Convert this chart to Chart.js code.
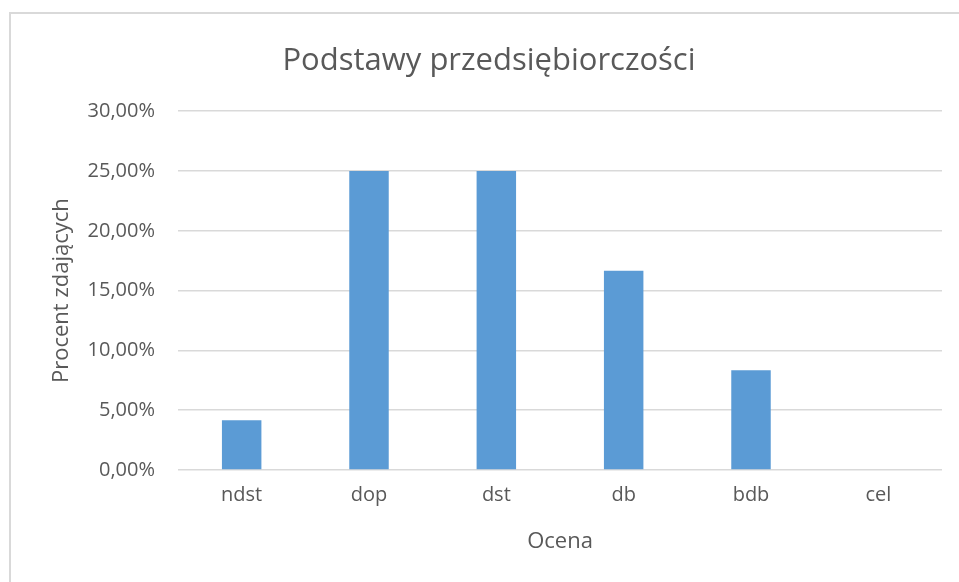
<!DOCTYPE html>
<html>
<head>
<meta charset="utf-8">
<script src="https://cdn.jsdelivr.net/npm/chart.js@4"></script>
<style>
  html, body { margin: 0; padding: 0; background: #fff; overflow: hidden; }
  #frame {
    position: absolute; left: 9px; top: 12px; width: 1000px; height: 600px;
    border-top: 2px solid #d9d9d9; border-left: 2px solid #d9d9d9;
  }
  #wrap { position: absolute; left: 9px; top: 12px; width: 960px; height: 570px; }
</style>
</head>
<body>
<div id="frame"></div>
<div id="wrap"><canvas id="chart" width="960" height="570"></canvas></div>
<script>
const categories = ["ndst", "dop", "dst", "db", "bdb", "cel"];
const percents = [4.17, 25.0, 25.0, 16.67, 8.33, 0];
const yTicks = [0, 5, 10, 15, 20, 25, 30];

const textColor = "#595959";
const fontFamily = "'Open Sans', 'Noto Sans', sans-serif";

const ctx = document.getElementById("chart");

new Chart(ctx, {
  type: "bar",
  data: {
    labels: categories,
    datasets: [
      {
        label: "Procent zdających",
        data: percents,
        backgroundColor: "#5B9BD5",
        categoryPercentage: 1,
        barPercentage: 0.31,
      },
    ],
  },
  options: {
    responsive: false,
    animation: false,
    layout: { padding: { left: 27, right: 27, top: 0, bottom: 0 } },
    plugins: {
      legend: { display: false },
      tooltip: { enabled: false },
      title: {
        display: true,
        text: "Podstawy przedsiębiorczości",
        color: textColor,
        font: { family: fontFamily, size: 31, weight: "normal" },
        padding: { top: 31, bottom: 31 },
      },
    },
    scales: {
      x: {
        grid: { display: false, drawTicks: false },
        border: { display: false },
        ticks: {
          color: textColor,
          font: { family: fontFamily, size: 20 },
          padding: 13,
        },
        title: {
          display: true,
          text: "Ocena",
          color: textColor,
          font: { family: fontFamily, size: 22 },
          padding: { top: 0, bottom: 27 },
        },
        afterFit: (scale) => {
          scale.height = 112;
        },
      },
      y: {
        min: 0,
        max: 30,
        afterBuildTicks: (scale) => {
          scale.ticks = yTicks.map((v) => ({ value: v }));
        },
        grid: { color: "#d9d9d9", lineWidth: 1.5, drawTicks: false },
        border: { display: false },
        ticks: {
          color: textColor,
          font: { family: fontFamily, size: 20 },
          padding: 23,
          callback: (v) => v.toFixed(2).replace(".", ",") + "%",
        },
        title: {
          display: true,
          text: "Procent zdających",
          color: textColor,
          font: { family: fontFamily, size: 22 },
          padding: { top: 13, bottom: 0 },
        },
        afterFit: (scale) => {
          scale.width = 142;
        },
      },
    },
  },
});
</script>
</body>
</html>
